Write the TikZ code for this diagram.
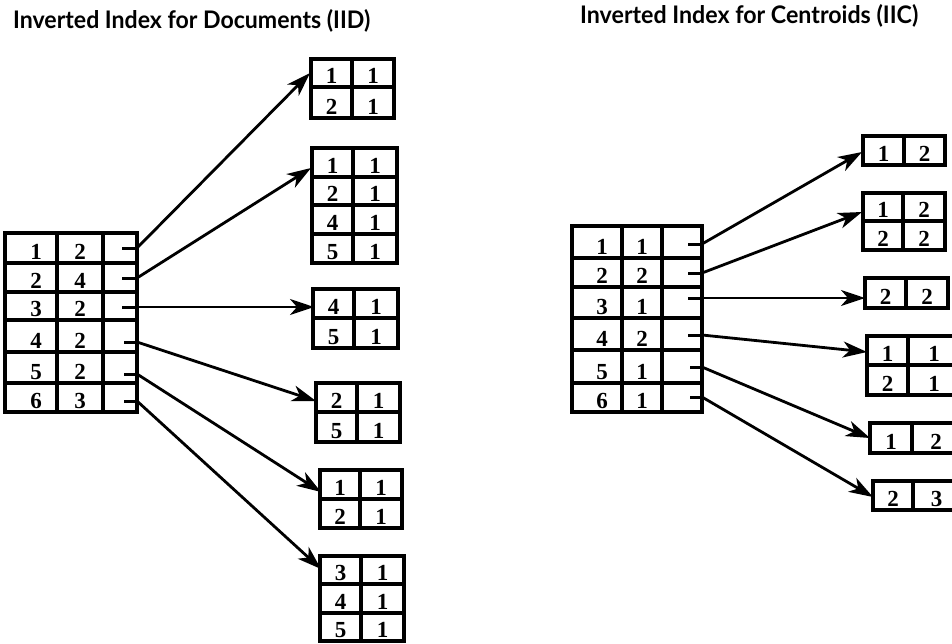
\documentclass[tikz,border=0pt]{standalone}
\usepackage{fontspec}
\setmainfont{Liberation Serif}
\newfontfamily\titlefont{Lato}
\usetikzlibrary{arrows.meta}
\tikzset{
  box/.style={line width=3.2pt},
  num/.style={font=\fontsize{23}{23}\selectfont\bfseries, anchor=base, inner sep=0pt},
  ptr/.style={line width=2.8pt, -{Stealth[length=24pt,width=16pt,inset=7pt]}},
  ptrdash/.style={line width=3pt},
  ttl/.style={anchor=base west, inner sep=0pt}
}
% posting-list row: x1 x2 x3 ytop ybot a b name
\newcommand\prow[8]{%
  \draw[box] (#1,#4) rectangle (#3,#5) (#2,#4) -- (#2,#5);
  \node[num] (#8a) at ({(#1+#2)/2},{#5-4}) {#6};
  \node[num] (#8b) at ({(#2+#3)/2},{#5-4}) {#7};
}
% index row: x1 x2 x3 x4 ytop ybot a b name
\newcommand\irow[9]{%
  \draw[box] (#1,#5) rectangle (#4,#6) (#2,#5) -- (#2,#6) (#3,#5) -- (#3,#6);
  \node[num] (#9a) at ({(#1+#2)/2+5},{#6-4}) {#7};
  \node[num] (#9b) at ({(#2+#3)/2},{#6-4}) {#8};
}
\begin{document}
\begin{tikzpicture}[x=1pt,y=-1pt]
\useasboundingbox (0,0) rectangle (952,643);
\clip (0,0) rectangle (952,643);

% titles
\node[ttl] (t1) at (13,28) {\resizebox{357pt}{19pt}{\titlefont\bfseries Inverted Index for Documents (IID)}};
\node[ttl] (t2) at (580,23) {\resizebox{338pt}{19pt}{\titlefont\bfseries Inverted Index for Centroids (IIC)}};

% ---------------- left index (IID) ----------------
\irow{5}{57}{103}{137}{233}{263}{1}{2}{la1}
\irow{5}{57}{103}{137}{263}{292}{2}{4}{la2}
\irow{5}{57}{103}{137}{292}{320}{3}{2}{la3}
\irow{5}{57}{103}{137}{320}{352}{4}{2}{la4}
\irow{5}{57}{103}{137}{352}{383}{5}{2}{la5}
\irow{5}{57}{103}{137}{383}{412}{6}{3}{la6}

% left posting lists
\prow{311}{352}{394}{59}{87}{1}{1}{lb1}
\prow{311}{352}{394}{87}{118}{2}{1}{lb2}

\prow{312}{353}{397}{148}{177}{1}{1}{lc1}
\prow{312}{353}{397}{177}{205}{2}{1}{lc2}
\prow{312}{353}{397}{205}{234}{4}{1}{lc3}
\prow{312}{353}{397}{234}{263}{5}{1}{lc4}

\prow{313}{354}{398}{289}{318}{4}{1}{ld1}
\prow{313}{354}{398}{318}{348}{5}{1}{ld2}

\prow{316}{357}{400}{383}{412}{2}{1}{le1}
\prow{316}{357}{400}{412}{442}{5}{1}{le2}

\prow{320}{360}{402}{470}{499}{1}{1}{lf1}
\prow{320}{360}{402}{499}{528}{2}{1}{lf2}

\prow{320}{361}{404}{556}{584}{3}{1}{lg1}
\prow{320}{361}{404}{584}{613}{4}{1}{lg2}
\prow{320}{361}{404}{613}{641}{5}{1}{lg3}

% left pointers
\coordinate (lp1) at (137,248);
\coordinate (lp2) at (137,278);
\coordinate (lp3) at (137,307);
\coordinate (lp4) at (137,342);
\coordinate (lp5) at (137,374);
\coordinate (lp6) at (137,401);
\coordinate (lq1) at (122,248);
\coordinate (lq2) at (122,278);
\coordinate (lq3) at (122,307);
\coordinate (lq4) at (124,342);
\coordinate (lq5) at (124,374);
\coordinate (lq6) at (124,401);
\coordinate (lt1) at (310,73);
\coordinate (lt2) at (311,168);
\coordinate (lt3) at (314,307);
\coordinate (lt4) at (316,401);
\coordinate (lt5) at (321,492);
\coordinate (lt6) at (321,569);
\foreach \i in {1,...,6}{
  \draw[ptrdash] (lq\i) -- (lp\i);
  \draw[ptr] (lp\i) -- (lt\i);
}

% ---------------- right index (IIC) ----------------
\irow{572}{622}{662}{702}{226}{258}{1}{1}{ra1}
\irow{572}{622}{662}{702}{258}{287}{2}{2}{ra2}
\irow{572}{622}{662}{702}{287}{318}{3}{1}{ra3}
\irow{572}{622}{662}{702}{318}{350}{4}{2}{ra4}
\irow{572}{622}{662}{702}{350}{383}{5}{1}{ra5}
\irow{572}{622}{662}{702}{383}{412}{6}{1}{ra6}

% right posting lists
\prow{863}{904}{945}{136}{165}{1}{2}{rb1}

\prow{863}{903}{945}{193}{221}{1}{2}{rc1}
\prow{863}{903}{945}{221}{250}{2}{2}{rc2}

\prow{865}{906}{948}{278}{308}{2}{2}{rd1}

\prow{867}{908}{960}{336}{365}{1}{1}{re1}
\prow{867}{908}{960}{365}{395}{2}{1}{re2}

\prow{870}{912}{960}{423}{453}{1}{2}{rf1}

\prow{873}{913}{960}{481}{510}{2}{3}{rg1}

% right pointers
\coordinate (rp1) at (702,244);
\coordinate (rp2) at (702,273);
\coordinate (rp3) at (702,298);
\coordinate (rp4) at (702,335);
\coordinate (rp5) at (702,367);
\coordinate (rp6) at (702,397);
\coordinate (rq1) at (688,244);
\coordinate (rq2) at (688,273);
\coordinate (rq3) at (688,298);
\coordinate (rq4) at (688,335);
\coordinate (rq5) at (690,367);
\coordinate (rq6) at (690,397);
\coordinate (rt1) at (862,152);
\coordinate (rt2) at (862,212);
\coordinate (rt3) at (865,298);
\coordinate (rt4) at (867,352);
\coordinate (rt5) at (870,438);
\coordinate (rt6) at (873,497);
\foreach \i in {1,...,6}{
  \draw[ptrdash] (rq\i) -- (rp\i);
  \draw[ptr] (rp\i) -- (rt\i);
}
\end{tikzpicture}
\end{document}
